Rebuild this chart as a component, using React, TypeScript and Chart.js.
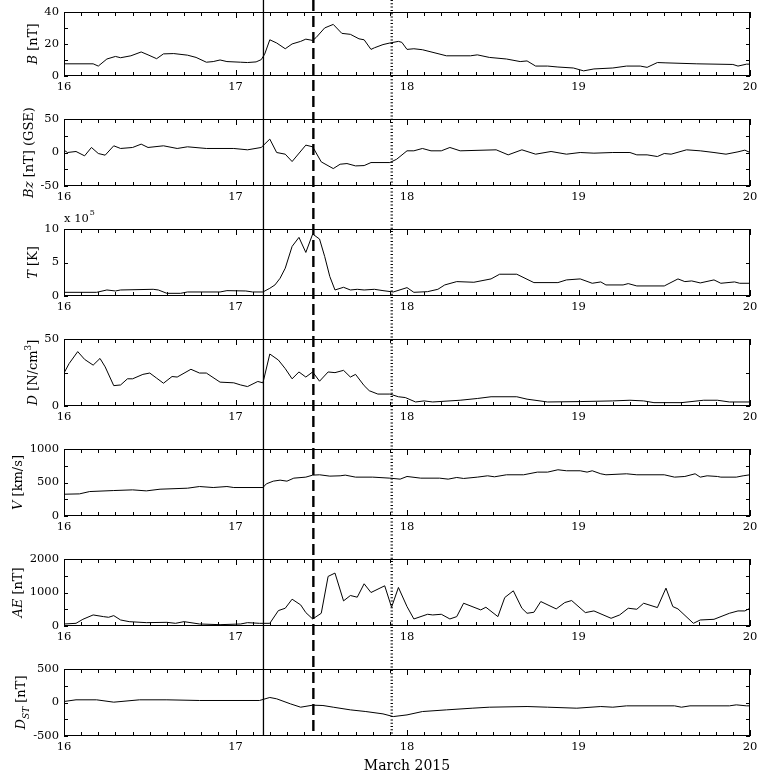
import React, { useEffect, useRef } from 'react';
import { Chart, registerables } from 'chart.js';

Chart.register(...registerables);

// ---------------- data (day of March 2015, value) ----------------
const X_MIN = 16;
const X_MAX = 20;
const X_TICK_STEP = 0.1;
const EVENT_TIMES = [17.163, 17.454, 17.911];
const X_AXIS_TITLE = 'March 2015';

const B_DATA: [number, number][] = [
  [16.0, 7.6], [16.17, 7.6], [16.2, 6.2], [16.25, 10.6], [16.3, 12.2], [16.33, 11.4], [16.39, 12.6],
  [16.45, 15], [16.49, 13.2], [16.54, 10.8], [16.58, 13.8], [16.64, 14], [16.72, 13], [16.77, 11.6],
  [16.83, 8.6], [16.87, 9], [16.91, 10], [16.95, 9], [17.03, 8.6], [17.07, 8.4], [17.12, 8.8],
  [17.15, 10.2], [17.17, 13.6], [17.2, 22.6], [17.24, 20.6], [17.29, 17], [17.33, 20], [17.38, 21.6],
  [17.41, 23], [17.45, 22.2], [17.47, 24], [17.52, 30], [17.57, 32.2], [17.62, 26.6], [17.67, 26],
  [17.72, 23.2], [17.75, 22.6], [17.79, 16.6], [17.81, 17.6], [17.86, 19.6], [17.9, 20.6],
  [17.95, 21.6], [17.97, 21], [18.0, 16.6], [18.04, 17], [18.09, 16.4], [18.23, 12.6], [18.37, 12.6],
  [18.41, 13.2], [18.48, 11.6], [18.58, 10.6], [18.66, 9], [18.7, 9.4], [18.75, 6.2], [18.82, 6.2],
  [18.88, 5.6], [18.97, 5], [19.03, 3.2], [19.09, 4.4], [19.2, 5], [19.28, 6.2], [19.36, 6.2],
  [19.4, 5.4], [19.46, 8.4], [19.51, 8.2], [19.69, 7.6], [19.9, 7.2], [19.93, 6.2], [19.98, 7.4],
  [20.0, 7.4],
];

const BZ_DATA: [number, number][] = [
  [16.0, 3.5], [16.02, 0], [16.07, 1.5], [16.12, -5], [16.16, 7.5], [16.2, -1.5], [16.24, -4],
  [16.29, 10], [16.33, 6], [16.4, 7.5], [16.45, 12.5], [16.49, 7.5], [16.58, 10], [16.66, 6],
  [16.72, 8.5], [16.83, 6], [16.99, 6], [17.07, 4], [17.15, 7.5], [17.2, 20], [17.24, 0],
  [17.29, -2.5], [17.33, -13.5], [17.41, 11], [17.45, 8.5], [17.5, -14], [17.57, -24],
  [17.61, -17.5], [17.65, -16.5], [17.7, -20], [17.75, -19.5], [17.79, -15], [17.9, -15],
  [17.94, -10], [18.0, 2.5], [18.04, 2.5], [18.09, 6], [18.14, 2.5], [18.2, 2.5], [18.25, 7.5],
  [18.31, 2.5], [18.52, 4], [18.59, -3.5], [18.67, 4], [18.75, -2.5], [18.84, 1.5], [18.93, -2.5],
  [19.01, 0], [19.09, -1], [19.2, 0], [19.3, 0], [19.34, -3.5], [19.4, -3.5], [19.46, -6],
  [19.5, -1.5], [19.54, -2.5], [19.63, 4], [19.71, 2.5], [19.79, 0], [19.86, -2.5], [19.93, 1],
  [19.97, 3.5], [20.0, 0],
];

// temperature in units of 10^5 K
const T_DATA: [number, number][] = [
  [16.0, 0.55], [16.19, 0.55], [16.25, 0.9], [16.3, 0.75], [16.33, 0.9], [16.52, 1.0], [16.55, 0.9],
  [16.6, 0.4], [16.68, 0.4], [16.72, 0.6], [16.91, 0.6], [16.95, 0.8], [17.06, 0.75], [17.1, 0.6],
  [17.16, 0.6], [17.2, 1.15], [17.23, 1.65], [17.26, 2.65], [17.29, 4.15], [17.33, 7.4],
  [17.37, 8.75], [17.41, 6.5], [17.45, 9.25], [17.49, 8.5], [17.52, 5.9], [17.55, 2.9], [17.58, 0.9],
  [17.63, 1.3], [17.67, 0.9], [17.71, 1.0], [17.75, 0.9], [17.81, 1.0], [17.86, 0.8], [17.92, 0.6],
  [18.0, 1.25], [18.04, 0.55], [18.12, 0.65], [18.18, 1.0], [18.22, 1.65], [18.29, 2.15],
  [18.39, 2.05], [18.49, 2.55], [18.54, 3.25], [18.64, 3.25], [18.74, 2.0], [18.88, 2.0],
  [18.93, 2.4], [19.01, 2.55], [19.08, 1.9], [19.13, 2.1], [19.16, 1.65], [19.26, 1.65],
  [19.29, 1.85], [19.34, 1.5], [19.5, 1.5], [19.58, 2.55], [19.62, 2.15], [19.66, 2.25],
  [19.71, 1.95], [19.79, 2.4], [19.83, 1.9], [19.91, 2.1], [19.94, 1.9], [20.0, 1.9],
];

const D_DATA: [number, number][] = [
  [16.0, 24.6], [16.03, 31.7], [16.08, 40.6], [16.12, 34.8], [16.17, 30.5], [16.21, 35.5],
  [16.24, 29.2], [16.29, 15.2], [16.33, 15.7], [16.37, 20.3], [16.4, 20.3], [16.46, 23.6],
  [16.5, 24.6], [16.54, 20.8], [16.58, 17], [16.63, 22], [16.66, 21.6], [16.74, 27.4], [16.79, 24.6],
  [16.83, 24.6], [16.91, 17.8], [16.99, 17.3], [17.03, 15.7], [17.07, 14.5], [17.13, 18.3],
  [17.16, 17.3], [17.2, 38.8], [17.25, 34.3], [17.29, 27.9], [17.33, 20.3], [17.37, 25.4],
  [17.41, 21.6], [17.45, 25.4], [17.49, 18.5], [17.54, 25.4], [17.58, 24.9], [17.63, 26.6],
  [17.67, 21.6], [17.7, 23.6], [17.75, 15.2], [17.78, 11.4], [17.83, 8.9], [17.9, 8.9], [17.95, 6.9],
  [17.99, 6.3], [18.05, 3], [18.1, 3.8], [18.15, 3], [18.31, 4.3], [18.41, 5.6], [18.49, 6.9],
  [18.64, 6.9], [18.7, 5.1], [18.82, 3], [19.01, 3.3], [19.2, 3.8], [19.3, 4.3], [19.38, 3.8],
  [19.44, 2.5], [19.6, 2.5], [19.73, 4.3], [19.81, 4.3], [19.88, 3], [20.0, 3],
];

const V_DATA: [number, number][] = [
  [16.0, 325], [16.09, 330], [16.15, 365], [16.29, 380], [16.4, 390], [16.48, 375], [16.56, 400],
  [16.72, 415], [16.79, 440], [16.87, 425], [16.95, 440], [16.99, 425], [17.16, 425], [17.18, 480],
  [17.22, 520], [17.26, 535], [17.3, 520], [17.34, 565], [17.41, 580], [17.45, 610], [17.49, 615],
  [17.55, 595], [17.61, 600], [17.64, 610], [17.7, 580], [17.8, 580], [17.9, 565], [17.96, 550],
  [18.0, 590], [18.08, 565], [18.19, 565], [18.24, 550], [18.29, 575], [18.33, 560], [18.41, 580],
  [18.47, 600], [18.51, 585], [18.58, 615], [18.68, 615], [18.76, 655], [18.82, 655], [18.88, 690],
  [18.93, 675], [19.01, 675], [19.05, 655], [19.08, 675], [19.13, 630], [19.16, 615], [19.28, 630],
  [19.34, 615], [19.5, 615], [19.56, 580], [19.62, 590], [19.68, 630], [19.71, 580], [19.75, 600],
  [19.81, 590], [19.83, 580], [19.92, 580], [19.96, 600], [20.0, 615],
];

const AE_DATA: [number, number][] = [
  [16.0, 60], [16.07, 80], [16.11, 200], [16.17, 330], [16.23, 280], [16.26, 260], [16.29, 310],
  [16.33, 180], [16.38, 130], [16.48, 100], [16.6, 110], [16.65, 80], [16.7, 130], [16.79, 60],
  [16.91, 40], [17.03, 60], [17.07, 100], [17.14, 80], [17.2, 80], [17.25, 460], [17.29, 530],
  [17.33, 800], [17.38, 630], [17.41, 400], [17.45, 210], [17.5, 380], [17.54, 1480], [17.58, 1580],
  [17.63, 750], [17.67, 910], [17.71, 860], [17.75, 1260], [17.79, 1000], [17.87, 1200],
  [17.91, 560], [17.95, 1150], [18.0, 580], [18.04, 210], [18.12, 350], [18.15, 330], [18.2, 350],
  [18.25, 210], [18.29, 280], [18.33, 680], [18.43, 480], [18.46, 560], [18.53, 280], [18.57, 850],
  [18.62, 1050], [18.67, 530], [18.7, 380], [18.74, 410], [18.78, 730], [18.87, 510], [18.92, 700],
  [18.96, 760], [19.04, 400], [19.09, 450], [19.19, 230], [19.24, 330], [19.29, 530], [19.34, 500],
  [19.38, 680], [19.46, 550], [19.51, 1130], [19.55, 580], [19.58, 510], [19.67, 80], [19.71, 180],
  [19.79, 200], [19.88, 380], [19.93, 450], [19.97, 450], [20.0, 530],
];

const DST_DATA: [number, number][] = [
  [16.0, 15], [16.07, 40], [16.19, 40], [16.29, 5], [16.44, 40], [16.6, 40], [16.79, 30],
  [17.14, 30], [17.2, 75], [17.24, 55], [17.32, -20], [17.38, -70], [17.45, -40], [17.51, -45],
  [17.57, -70], [17.67, -110], [17.76, -135], [17.86, -170], [17.92, -210], [18.0, -185],
  [18.09, -135], [18.23, -110], [18.38, -85], [18.48, -70], [18.7, -60], [18.82, -70], [18.99, -85],
  [19.13, -60], [19.2, -70], [19.28, -50], [19.56, -50], [19.6, -70], [19.65, -50], [19.88, -50],
  [19.92, -35], [19.98, -50], [20.0, -50],
];

// ---------------- panel configuration ----------------
type Seg = { t: string; it?: boolean; sup?: boolean; sub?: boolean };
interface Panel {
  data: [number, number][];
  min: number;
  max: number;
  step: number;
  labelStep: number;
  title: Seg[];
  exponent?: string;
}

const PANELS: Panel[] = [
  { data: B_DATA, min: 0, max: 40, step: 10, labelStep: 20, title: [{ t: 'B', it: true }, { t: ' [nT]' }] },
  { data: BZ_DATA, min: -50, max: 50, step: 25, labelStep: 50, title: [{ t: 'Bz', it: true }, { t: ' [nT] (GSE)' }] },
  { data: T_DATA, min: 0, max: 10, step: 5, labelStep: 5, title: [{ t: 'T', it: true }, { t: ' [K]' }], exponent: '5' },
  { data: D_DATA, min: 0, max: 50, step: 25, labelStep: 50, title: [{ t: 'D', it: true }, { t: ' [N/cm' }, { t: '3', sup: true }, { t: ']' }] },
  { data: V_DATA, min: 0, max: 1000, step: 250, labelStep: 500, title: [{ t: 'V', it: true }, { t: ' [km/s]' }] },
  { data: AE_DATA, min: 0, max: 2000, step: 500, labelStep: 1000, title: [{ t: 'AE', it: true }, { t: ' [nT]' }] },
  { data: DST_DATA, min: -500, max: 500, step: 250, labelStep: 500, title: [{ t: 'D', it: true }, { t: 'ST', it: true, sub: true }, { t: ' [nT]' }] },
];

// ---------------- layout / style ----------------
const W = 763;
const H = 776;
const PANEL_STEP = 110;
const FIRST_PLOT_TOP = 9;
const PLOT_TOP = 20;
const PLOT_H = 67;
const AXIS_W = 64;
const RIGHT_PAD = 13;
const FONT = 'DejaVu Serif';
const TICK_SIZE = 11.5;
const TITLE_SIZE = 13;

const isMultiple = (v: number, s: number) => Math.abs(v / s - Math.round(v / s)) < 1e-6;

function drawSegs(ctx: CanvasRenderingContext2D, segs: Seg[], cx: number, cy: number, size: number) {
  ctx.save();
  ctx.translate(cx, cy);
  ctx.rotate(-Math.PI / 2);
  ctx.fillStyle = '#000';
  ctx.textBaseline = 'alphabetic';
  ctx.textAlign = 'left';
  const fontOf = (s: Seg) => `${s.it ? 'italic ' : ''}${s.sup || s.sub ? Math.round(size * 0.72) : size}px "${FONT}"`;
  let total = 0;
  for (const s of segs) {
    ctx.font = fontOf(s);
    total += ctx.measureText(s.t).width;
  }
  let x = -total / 2;
  const base = size * 0.36;
  for (const s of segs) {
    ctx.font = fontOf(s);
    const dy = s.sup ? -size * 0.42 : s.sub ? size * 0.3 : 0;
    ctx.fillText(s.t, x, base + dy);
    x += ctx.measureText(s.t).width;
  }
  ctx.restore();
}

// frame + inward tick marks, placed with the chart's own scales
function makeFramePlugin() {
  return {
    id: 'panelFrame',
    afterDraw(chart: any) {
      const ctx: CanvasRenderingContext2D = chart.ctx;
      const { left, right, top, bottom } = chart.chartArea;
      const xs = chart.scales.x;
      const ys = chart.scales.y;
      const L = Math.round(left);
      const R = Math.round(right);
      const T = Math.round(top);
      const B = Math.round(bottom);
      ctx.save();
      ctx.setLineDash([]);
      ctx.fillStyle = '#000';
      ctx.fillRect(L, T, R - L, 1);
      ctx.fillRect(L, B - 1, R - L, 1);
      ctx.fillRect(L, T, 1, B - T);
      ctx.fillRect(R - 1, T, 1, B - T);
      const xTicks: any[] = xs.getTicks();
      for (const t of xTicks) {
        const px = Math.round(xs.getPixelForValue(t.value));
        const len = isMultiple(t.value, 1) ? 6 : 4;
        ctx.fillRect(px, B - len, 1, len);
        ctx.fillRect(px, T, 1, len);
      }
      const yTicks: any[] = ys.getTicks();
      for (const t of yTicks) {
        const py = Math.round(ys.getPixelForValue(t.value));
        ctx.fillRect(L, py, 4, 1);
        ctx.fillRect(R - 4, py, 4, 1);
      }
      ctx.restore();
    },
  };
}

function makeEventPlugin(canvasTop: number, last: boolean) {
  const styles = [
    { width: 1.3, dash: [] as number[] },
    { width: 2.4, dash: [11, 5] },
    { width: 2.4, dash: [1, 2.3] },
  ];
  return {
    id: 'eventLines',
    afterDraw(chart: any) {
      const { ctx, chartArea, height } = chart;
      const xs = chart.scales.x;
      const y1 = last ? chartArea.bottom : height;
      ctx.save();
      ctx.strokeStyle = '#000';
      EVENT_TIMES.forEach((t, i) => {
        const st = styles[i];
        const px = xs.getPixelForValue(t);
        ctx.lineWidth = st.width;
        ctx.setLineDash(st.dash);
        ctx.lineDashOffset = canvasTop;
        ctx.beginPath();
        ctx.moveTo(px, 0);
        ctx.lineTo(px, y1);
        ctx.stroke();
      });
      ctx.restore();
    },
  };
}

function makeTitlePlugin(panel: Panel) {
  return {
    id: 'panelTitle',
    afterDraw(chart: any) {
      const { ctx, chartArea } = chart;
      const ys = chart.scales.y;
      ctx.save();
      ctx.font = `${TICK_SIZE}px "${FONT}"`;
      let maxW = 0;
      ys.ticks.forEach((t: any) => {
        if (t.label) maxW = Math.max(maxW, ctx.measureText(String(t.label)).width);
      });
      const labelLeft = chartArea.left - 5 - maxW;
      const cx = labelLeft - 6 - TITLE_SIZE * 0.5;
      const cy = (chartArea.top + chartArea.bottom) / 2;
      drawSegs(ctx, panel.title, cx, cy, TITLE_SIZE);
      if (panel.exponent) {
        ctx.fillStyle = '#000';
        ctx.textAlign = 'left';
        ctx.textBaseline = 'alphabetic';
        ctx.font = `${TICK_SIZE}px "${FONT}"`;
        const base = chartArea.top - 7;
        const txt = 'x 10';
        ctx.fillText(txt, chartArea.left, base);
        const w = ctx.measureText(txt).width;
        ctx.font = `8px "${FONT}"`;
        ctx.fillText(panel.exponent, chartArea.left + w + 1, base - 7);
      }
      ctx.restore();
    },
  };
}

function PanelChart({ panel, index, last }: { panel: Panel; index: number; last: boolean }) {
  const ref = useRef<HTMLCanvasElement>(null);
  const plotTop = index === 0 ? FIRST_PLOT_TOP : PLOT_TOP;
  const canvasTop = index === 0 ? 0 : FIRST_PLOT_TOP + index * PANEL_STEP - PLOT_TOP;
  const nextTop = last ? H : FIRST_PLOT_TOP + (index + 1) * PANEL_STEP - PLOT_TOP;
  const h = nextTop - canvasTop;

  useEffect(() => {
    if (!ref.current) return;
    const tickFont = { family: FONT, size: TICK_SIZE };
    const chart = new Chart(ref.current, {
      type: 'line',
      data: {
        datasets: [
          {
            data: panel.data.map(([x, y]) => ({ x, y })),
            borderColor: '#000',
            borderWidth: 1,
            pointRadius: 0,
            tension: 0,
            fill: false,
          },
        ],
      },
      options: {
        responsive: false,
        animation: false,
        devicePixelRatio: 1,
        events: [],
        layout: { padding: { top: plotTop, right: RIGHT_PAD, left: 0, bottom: 0 } },
        plugins: { legend: { display: false }, tooltip: { enabled: false }, title: { display: false } },
        scales: {
          x: {
            type: 'linear',
            min: X_MIN,
            max: X_MAX,
            grid: { display: false, drawTicks: false },
            border: { display: false },
            ticks: {
              stepSize: X_TICK_STEP,
              autoSkip: false,
              maxRotation: 0,
              minRotation: 0,
              padding: 4,
              color: '#000',
              font: tickFont,
              callback: (v: any) => (isMultiple(Number(v), 1) ? String(Math.round(Number(v))) : ''),
            },
            title: last
              ? { display: true, text: X_AXIS_TITLE, color: '#000', font: { family: FONT, size: 14 }, padding: { top: 0, bottom: 1 } }
              : { display: false },
            afterFit: (s: any) => {
              s.height = h - plotTop - PLOT_H;
            },
          },
          y: {
            type: 'linear',
            min: panel.min,
            max: panel.max,
            grid: { display: false, drawTicks: false },
            border: { display: false },
            ticks: {
              stepSize: panel.step,
              autoSkip: false,
              padding: 5,
              color: '#000',
              font: tickFont,
              callback: (v: any) => (isMultiple(Number(v), panel.labelStep) ? String(v) : ''),
            },
            afterFit: (s: any) => {
              s.width = AXIS_W;
            },
          },
        },
      } as any,
      plugins: [makeFramePlugin(), makeTitlePlugin(panel), makeEventPlugin(canvasTop, last)],
    });
    return () => chart.destroy();
  }, [panel, index, last]);

  return (
    <canvas
      ref={ref}
      width={W}
      height={h}
      style={{ position: 'absolute', left: 0, top: canvasTop, display: 'block', width: W, height: h }}
    />
  );
}

export default function App() {
  return (
    <div style={{ position: 'absolute', left: 0, top: 0, width: W, height: H, background: '#fff', overflow: 'hidden' }}>
      {PANELS.map((p, i) => (
        <PanelChart key={i} panel={p} index={i} last={i === PANELS.length - 1} />
      ))}
    </div>
  );
}
